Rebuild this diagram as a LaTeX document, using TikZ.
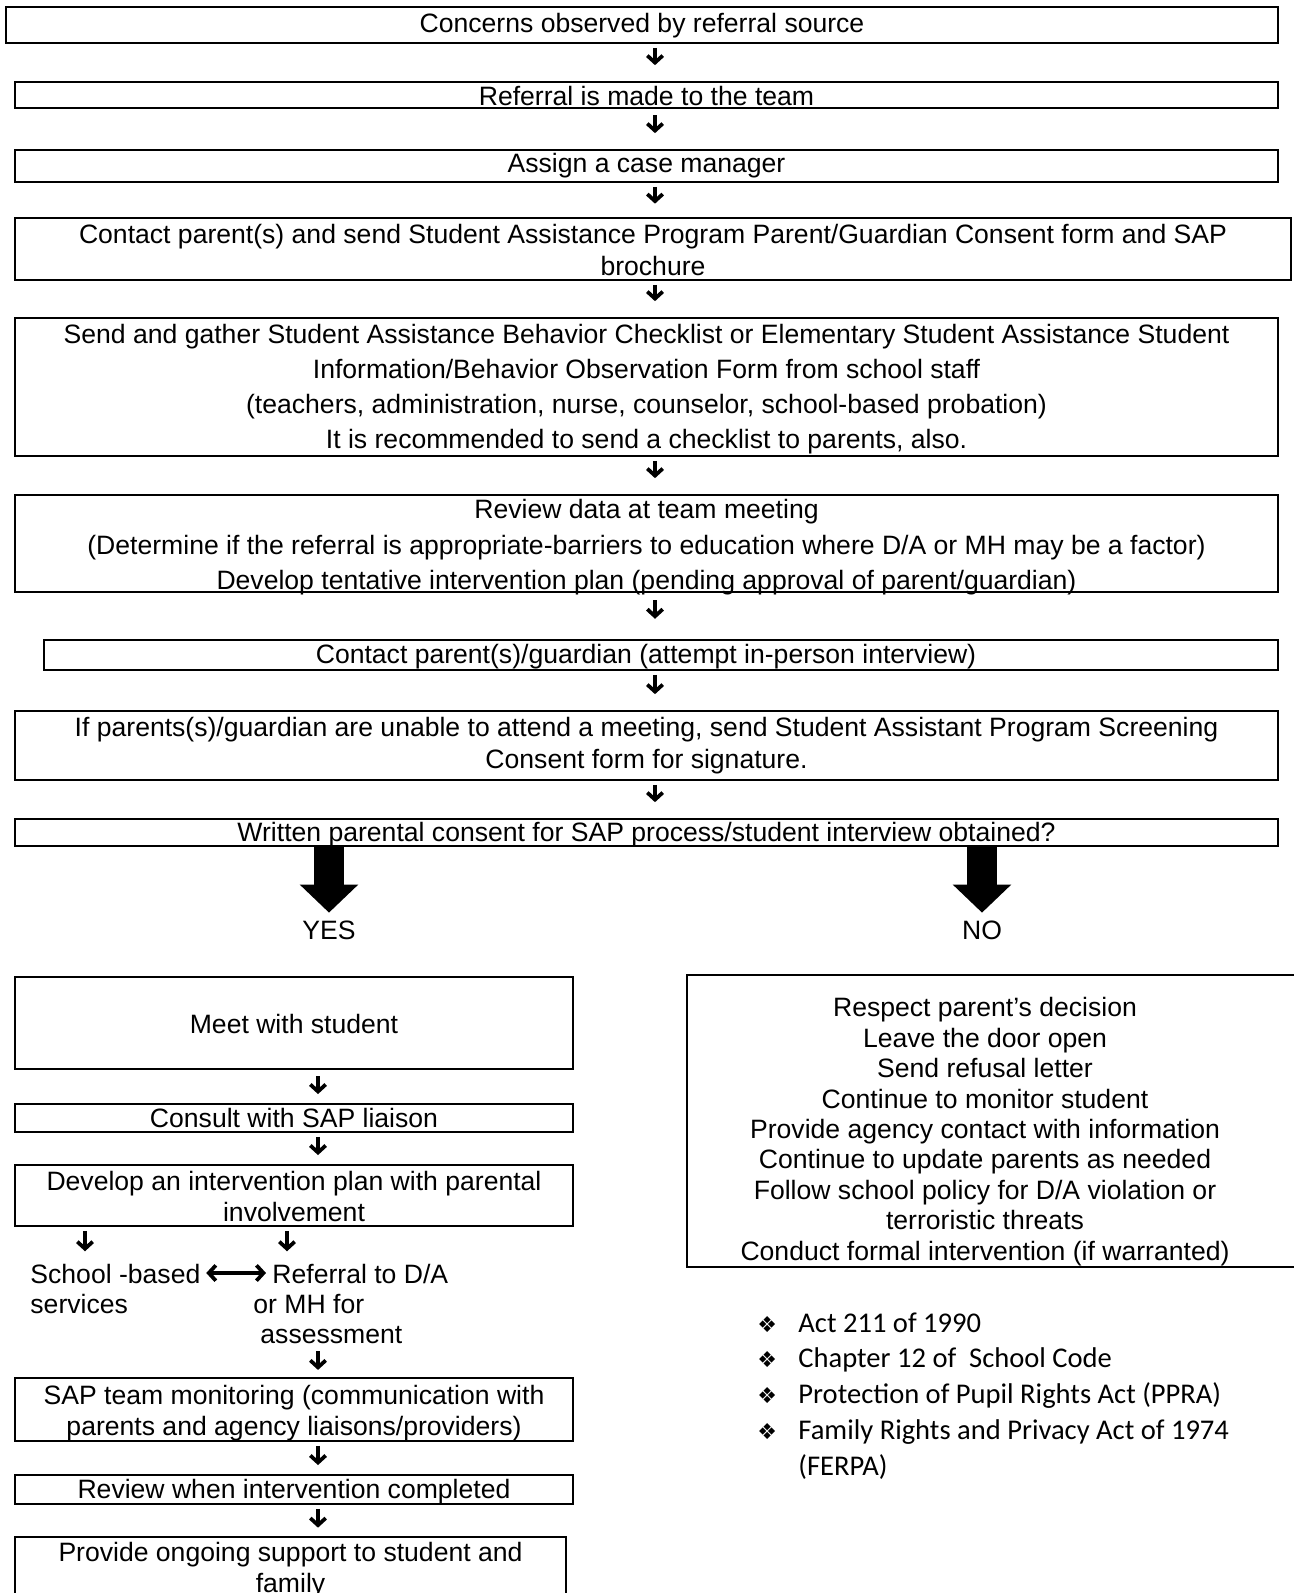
\documentclass[tikz,border=0pt]{standalone}
\usepackage{fontspec}
\setmainfont{Liberation Sans}
\newfontfamily\calfont{Carlito}
\newfontfamily\symfont{DejaVu Sans}
\usetikzlibrary{arrows.meta}
\newcommand{\bul}{\makebox[0.656cm][l]{\symfont\fontsize{10pt}{10pt}\selectfont ❖}}
\tikzset{
	box/.style={shape=rectangle, draw, line width=1.1pt},
	boxtext/.style={anchor=center, align=center, inner sep=0pt, font=\fontsize{12.1pt}{#1}\selectfont},
	boxtext/.default={13.97pt},
	flow/.style={line width=1.7pt, -{Straight Barb[length=3.2pt, width=7pt]}, shorten <=0.06cm, shorten >=0.25cm},
	bigflow/.style={line width=0.48cm, -{Triangle[length=0.45cm, width=0.912cm]}},
	twoway/.style={line width=1.7pt, {Straight Barb[length=3.2pt, width=7pt]}-{Straight Barb[length=3.2pt, width=7pt]}},
}
\begin{document}
\begin{tikzpicture}
	\useasboundingbox (0, 0) rectangle (20.704, -25.488);
	% Paths, nodes and wires:
	\node[box, minimum width=20.352cm, minimum height=0.576cm] (concern) at (10.272, -0.4){} node[boxtext] (concerntxt) at (10.272, -0.416){Concerns observed by referral source};
	\node[box, minimum width=20.208cm, minimum height=0.416cm] (referral) at (10.344, -1.52){} node[boxtext] (referraltxt) at (10.344, -1.538){Referral is made to the team};
	\node[box, minimum width=20.208cm, minimum height=0.512cm] (assign) at (10.344, -2.656){} node[boxtext] (assigntxt) at (10.344, -2.656){Assign a case manager};
	\node[box, minimum width=20.416cm, minimum height=0.992cm] (contact) at (10.448, -3.984){} node[boxtext=14.57pt] (contacttxt) at (10.448, -3.996){Contact parent(s) and send Student Assistance Program Parent/Guardian Consent form and SAP\\brochure};
	\node[box, minimum width=20.208cm, minimum height=2.208cm] (gather) at (10.344, -6.192){} node[boxtext=15.93pt] (gathertxt) at (10.344, -6.225){Send and gather Student Assistance Behavior Checklist or Elementary Student Assistance Student\\Information/Behavior Observation Form from school staff\\(teachers, administration, nurse, counselor, school-based probation)\\It is recommended to send a checklist to parents, also.};
	\node[box, minimum width=20.208cm, minimum height=1.552cm] (review) at (10.344, -8.696){} node[boxtext=16.16pt] (reviewtxt) at (10.344, -8.76){Review data at team meeting\\(Determine if the referral is appropriate-barriers to education where D/A or MH may be a factor)\\Develop tentative intervention plan (pending approval of parent/guardian)};
	\node[box, minimum width=19.744cm, minimum height=0.48cm] (parentmtg) at (10.576, -10.48){} node[boxtext] (parentmtgtxt) at (10.336, -10.513){Contact parent(s)/guardian (attempt in-person interview)};
	\node[box, minimum width=20.208cm, minimum height=1.104cm] (unable) at (10.344, -11.928){} node[boxtext=14.57pt] (unabletxt) at (10.344, -11.928){If parents(s)/guardian are unable to attend a meeting, send Student Assistant Program Screening\\Consent form for signature.};
	\node[box, minimum width=20.208cm, minimum height=0.432cm] (consent) at (10.344, -13.32){} node[boxtext] (consenttxt) at (10.344, -13.353){Written parental consent for SAP process/student interview obtained?};
	\node[boxtext] (yes) at (5.264, -14.88){YES};
	\node[boxtext] (no) at (15.712, -14.88){NO};
	% left branch
	\node[box, minimum width=8.928cm, minimum height=1.472cm] (meet) at (4.704, -16.368){} node[boxtext] (meettxt) at (4.704, -16.384){Meet with student};
	\node[box, minimum width=8.928cm, minimum height=0.448cm] (consult) at (4.704, -17.888){} node[boxtext] (consulttxt) at (4.704, -17.888){Consult with SAP liaison};
	\node[box, minimum width=8.928cm, minimum height=0.976cm] (develop) at (4.704, -19.128){} node[boxtext=14.11pt] (developtxt) at (4.704, -19.14){Develop an intervention plan with parental\\involvement};
	\node[anchor=north west, align=left, inner sep=0pt, font=\fontsize{12.1pt}{13.66pt}\selectfont] (school) at (0.48, -20.22){School -based\\services};
	\node[anchor=north west, align=left, inner sep=0pt, font=\fontsize{12.1pt}{13.66pt}\selectfont] (refer) at (4.048, -20.22){\hspace*{0.304cm}Referral to D/A\\or MH for\\\hspace*{0.112cm}assessment};
	\node[box, minimum width=8.928cm, minimum height=1.008cm] (monitor) at (4.704, -22.552){} node[boxtext=14.11pt] (monitortxt) at (4.704, -22.615){SAP team monitoring (communication with\\parents and agency liaisons/providers)};
	\node[box, minimum width=8.928cm, minimum height=0.464cm] (reviewend) at (4.704, -23.832){} node[boxtext] (reviewendtxt) at (4.704, -23.865){Review when intervention completed};
	\node[box, minimum width=8.816cm, minimum height=1.056cm] (support) at (4.648, -25.12){} node[boxtext=14.11pt] (supporttxt) at (4.648, -25.12){Provide ongoing support to student and\\family};
	% right branch
	\node[box, minimum width=9.968cm, minimum height=4.672cm] (refusal) at (15.976, -17.936){} node[boxtext=13.84pt] (refusaltxt) at (15.76, -18.105){Respect parent’s decision\\Leave the door open\\Send refusal letter\\Continue to monitor student\\Provide agency contact with information\\Continue to update parents as needed\\Follow school policy for D/A violation or\\terroristic threats\\Conduct formal intervention (if warranted)};
	\node[anchor=north west, align=left, inner sep=0pt, font=\calfont\fontsize{13pt}{16.3pt}\selectfont] (acts) at (12.112, -20.993){\bul Act 211 of 1990\\\bul Chapter 12 of~ School Code\\\bul Protection of Pupil Rights Act (PPRA)\\\bul Family Rights and Privacy Act of 1974\\\hspace*{0.656cm}(FERPA)};
	% arrows
	\coordinate (cx) at (10.48, 0);
	\coordinate (lx) at (5.088, 0);
	\coordinate (sx) at (1.36, 0);
	\coordinate (rx) at (4.592, 0);
	\coordinate (bothl) at (3.3, -20.368);
	\coordinate (bothr) at (4.256, -20.368);
	\draw[flow] (concern.south -| cx) -- (referral.north -| cx);
	\draw[flow, shorten <=0.1cm] (referral.south -| cx) -- (assign.north -| cx);
	\draw[flow, shorten >=0.21cm] (assign.south -| cx) -- (contact.north -| cx);
	\draw[flow] (contact.south -| cx) -- (gather.north -| cx);
	\draw[flow] (gather.south -| cx) -- (review.north -| cx);
	\draw[flow, shorten <=0.11cm, shorten >=0.32cm] (review.south -| cx) -- (parentmtg.north -| cx);
	\draw[flow] (parentmtg.south -| cx) -- (unable.north -| cx);
	\draw[flow] (unable.south -| cx) -- (consent.north -| cx);
	\draw[bigflow, shorten >=0.12cm] (consent.south -| yes) -- (yes.north);
	\draw[bigflow, shorten >=0.12cm] (consent.south -| no) -- (no.north);
	\draw[flow, shorten <=0.1cm, shorten >=0.14cm] (meet.south -| lx) -- (consult.north -| lx);
	\draw[flow, shorten >=0.14cm] (consult.south -| lx) -- (develop.north -| lx);
	\draw[flow, shorten >=0.2cm] (develop.south -| sx) -- (school.north -| sx);
	\draw[flow, shorten >=0.2cm] (develop.south -| rx) -- (refer.north -| rx);
	\draw[twoway] (bothl) -- (bothr);
	\draw[flow, shorten <=0.11cm, shorten >=0.11cm] (refer.south -| lx) -- (monitor.north -| lx);
	\draw[flow, shorten >=0.14cm] (monitor.south -| lx) -- (reviewend.north -| lx);
	\draw[flow, shorten >=0.13cm] (reviewend.south -| lx) -- (support.north -| lx);
\end{tikzpicture}
\end{document}
